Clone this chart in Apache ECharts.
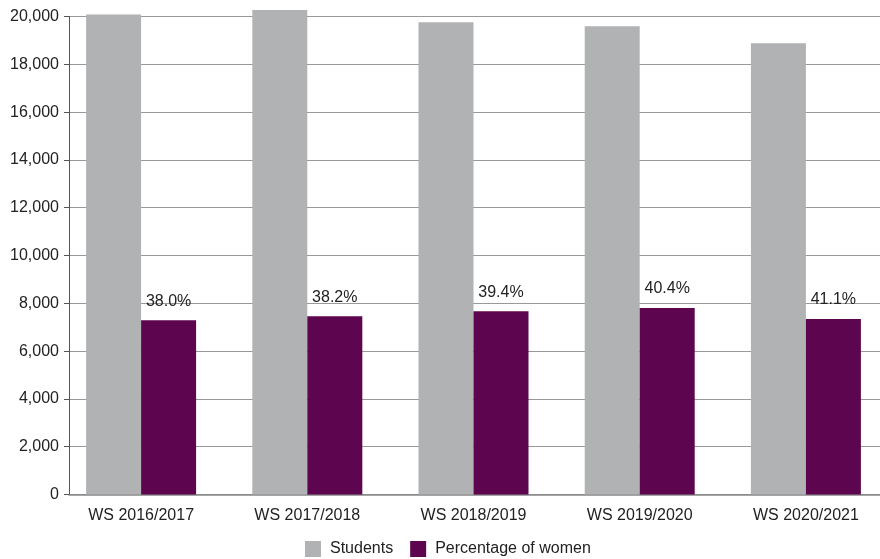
<!DOCTYPE html>
<html>
<head>
<meta charset="utf-8">
<style>
  html, body { margin: 0; padding: 0; background: #fff; overflow: hidden; }
  #chart { width: 889px; height: 559px; }
</style>
<script src="https://cdn.jsdelivr.net/npm/echarts@6/dist/echarts.min.js"></script>
</head>
<body>
<div id="chart"></div>
<script>
// data
const categories = ["WS 2016/2017", "WS 2017/2018", "WS 2018/2019", "WS 2019/2020", "WS 2020/2021"];
const students = [20080, 20270, 19760, 19590, 18880];
const women = [7290, 7460, 7670, 7800, 7340];
const womenShare = ["38.0%", "38.2%", "39.4%", "40.4%", "41.1%"];

const font = "Liberation Sans, Arial, sans-serif";
const chart = echarts.init(document.getElementById("chart"));

chart.setOption({
  animation: false,
  color: ["#b1b2b4", "#5d054f"],
  textStyle: { fontFamily: font },
  // grid 0 holds the bars, grid 1 the gridlines and value labels
  grid: [
    { left: 58, top: 16.5, right: 0, bottom: 64.5 },
    { left: 69, top: 16.5, right: 0, bottom: 64.5 },
  ],
  legend: {
    bottom: -3,
    left: 300,
    itemWidth: 16,
    itemHeight: 16,
    itemGap: 17,
    icon: "rect",
    textStyle: { fontFamily: font, fontSize: 16, color: "#222", padding: [0, 0, 0, 4] },
    data: ["Students", "Percentage of women"],
  },
  xAxis: [
    {
      type: "category",
      gridIndex: 0,
      data: categories,
      axisTick: { show: false },
      axisLine: { show: false },
      axisLabel: { color: "#222", fontSize: 16, margin: 13, fontFamily: font },
    },
    {
      type: "value",
      gridIndex: 1,
      min: 0,
      max: 1,
      axisTick: { show: false },
      axisLabel: { show: false },
      splitLine: { show: false },
      axisLine: { onZero: false, lineStyle: { color: "#888", width: 1.5 } },
    },
  ],
  yAxis: [
    {
      type: "value",
      gridIndex: 0,
      min: 0,
      max: 20000,
      interval: 2000,
      axisLabel: { show: false },
      splitLine: { show: false },
    },
    {
      type: "value",
      gridIndex: 1,
      min: 0,
      max: 20000,
      interval: 2000,
      axisLabel: {
        color: "#222",
        fontSize: 16,
        margin: 10,
        fontFamily: font,
        formatter: (v) => v.toLocaleString("en-US"),
      },
      splitLine: { lineStyle: { color: "#999", width: 1 } },
    },
  ],
  series: [
    {
      name: "Students",
      type: "bar",
      xAxisIndex: 0,
      yAxisIndex: 0,
      barWidth: 55,
      barGap: 0,
      clip: false,
      z: 3,
      data: students,
    },
    {
      name: "Percentage of women",
      type: "bar",
      xAxisIndex: 0,
      yAxisIndex: 0,
      barWidth: 55,
      barGap: 0,
      clip: false,
      z: 3,
      data: women,
      label: {
        show: true,
        position: "top",
        distance: 11,
        color: "#222",
        fontSize: 16,
        fontFamily: font,
        formatter: (p) => womenShare[p.dataIndex],
      },
    },
  ],
});
</script>
</body>
</html>
